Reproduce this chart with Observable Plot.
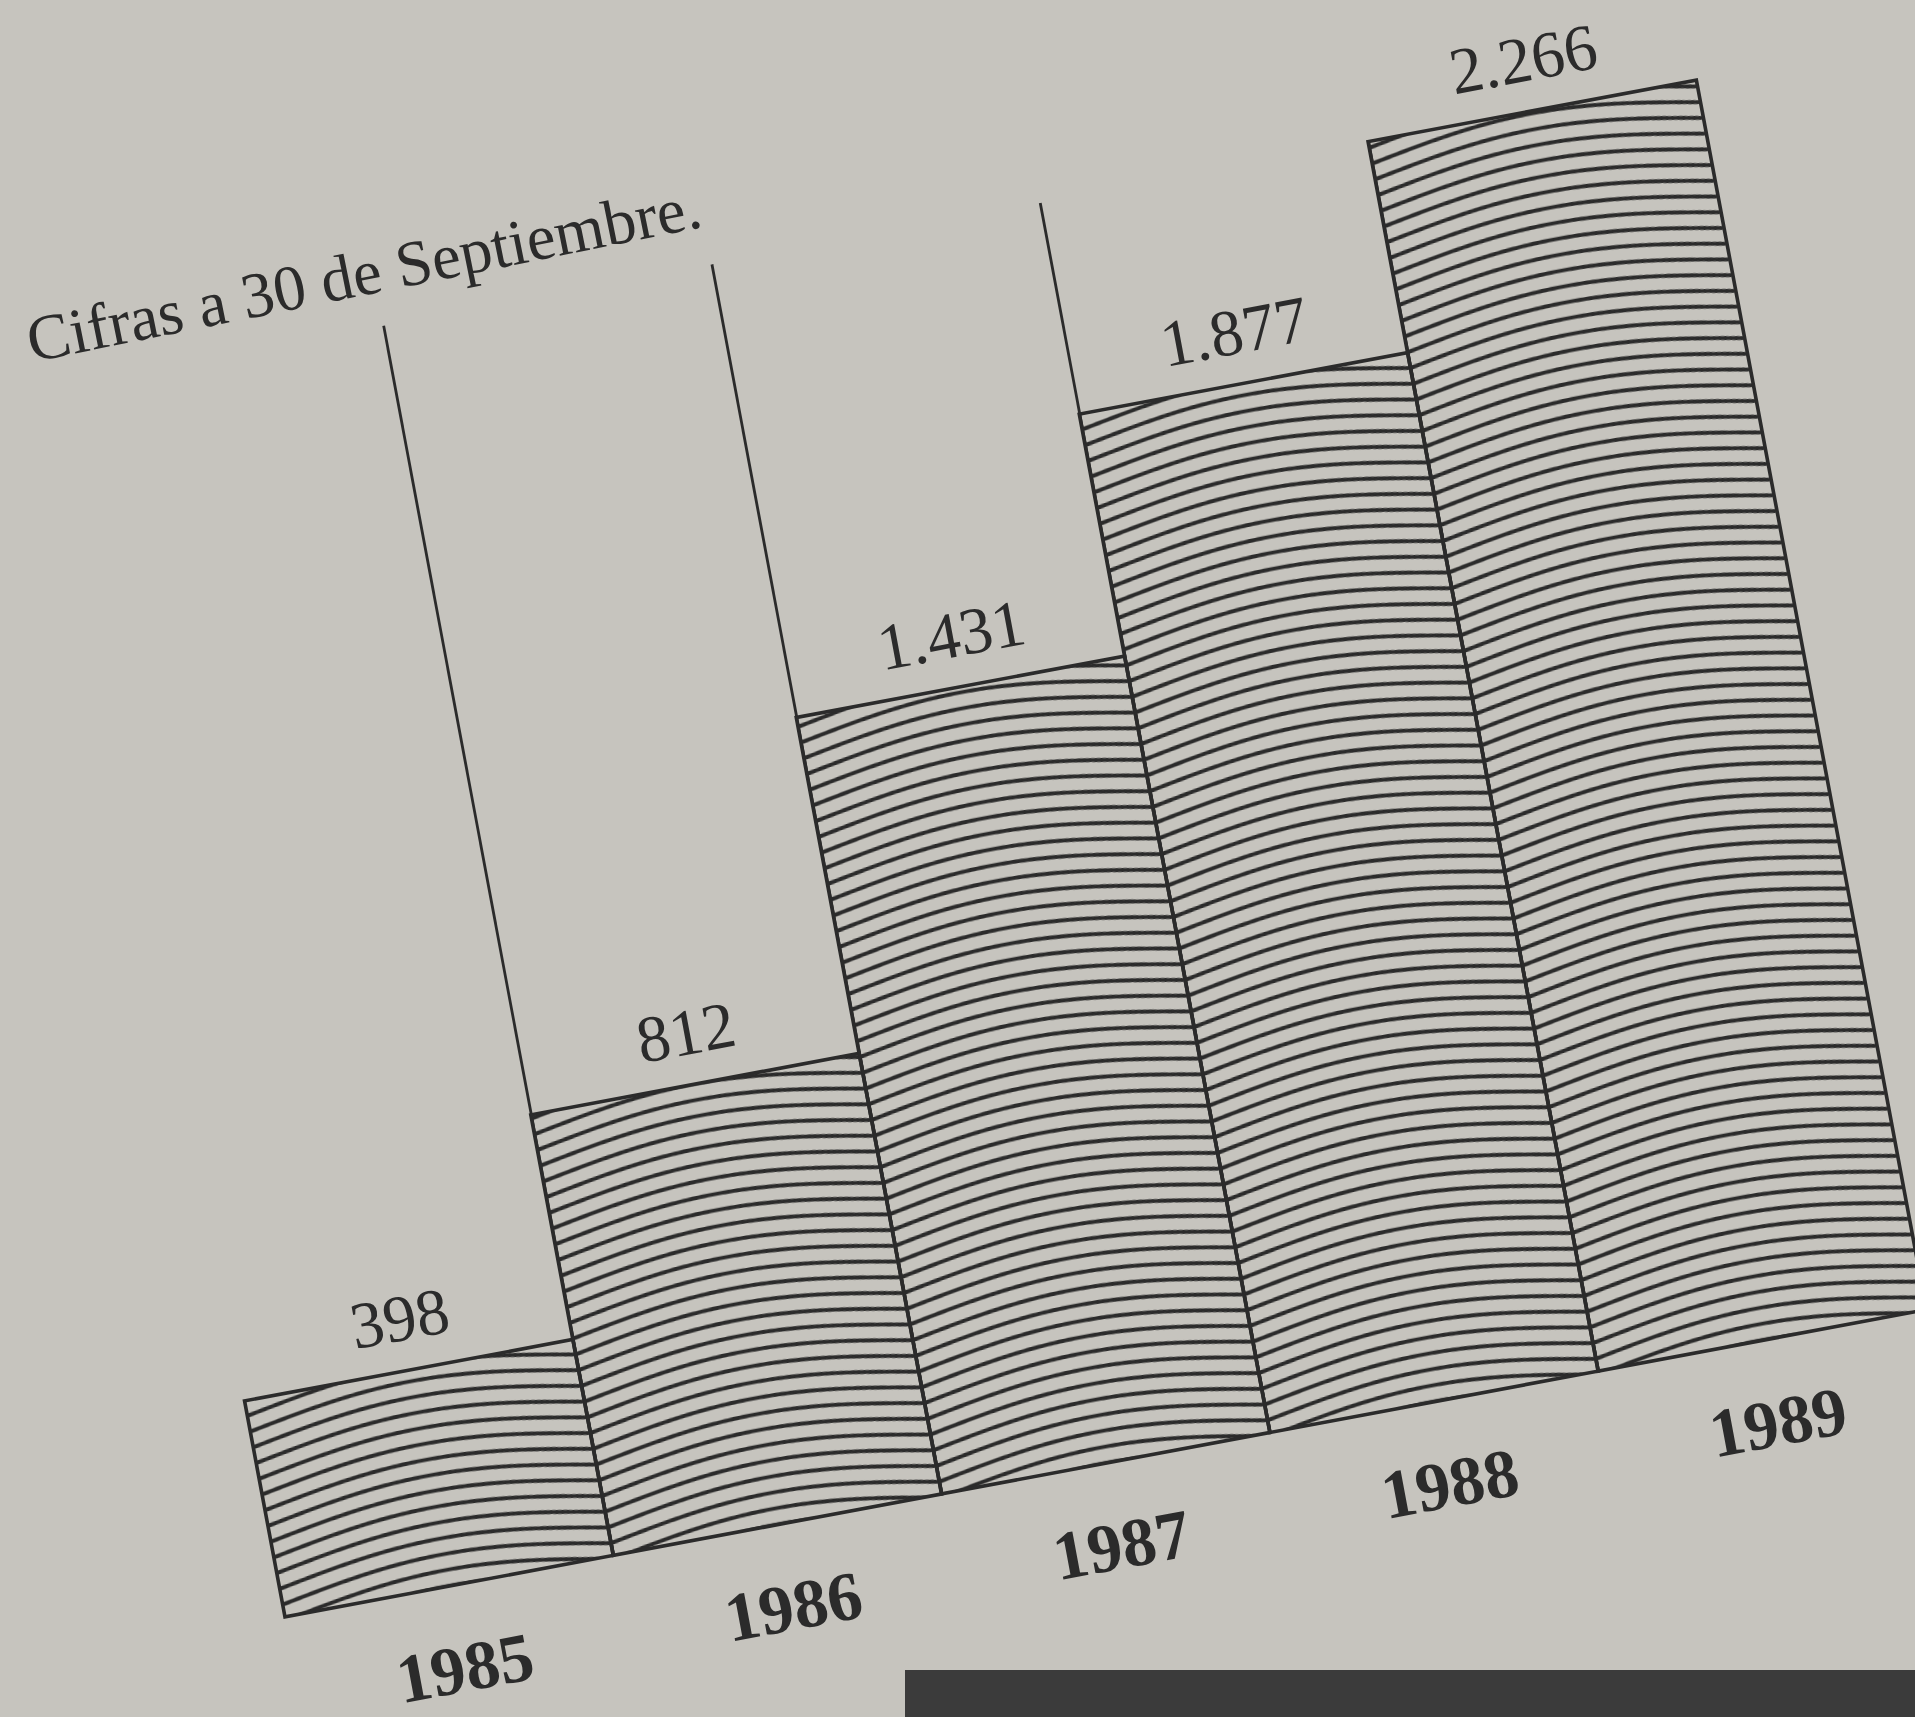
<!DOCTYPE html>
<html>
<head>
<meta charset="utf-8">
<script src="https://cdn.jsdelivr.net/npm/d3@7"></script>
<script src="https://cdn.jsdelivr.net/npm/@observablehq/plot@0.6"></script>
<style>
html, body { margin: 0; padding: 0; width: 1915px; height: 1717px; overflow: hidden; background: #c6c4be; }
#wrap { position: absolute; left: 225px; top: 266px; width: 1790px; transform-origin: 60px 1351px; transform: rotate(-10.6deg); }
#title { position: absolute; left: 42px; top: 18px; font-family: "Liberation Serif", serif; font-size: 64.5px; line-height: 64px; color: #2b2b2b; white-space: nowrap; transform-origin: 0 53px; transform: rotate(-0.8deg); }
#chart svg { display: block; overflow: visible; max-width: none !important; }
#photo { position: absolute; left: 905px; top: 1670px; width: 1010px; height: 47px; background: #3b3b3b; }
</style>
</head>
<body>
<div id="wrap">
  <div id="title"></div>
  <div id="chart"></div>
</div>
<div id="photo"></div>
<script>
// ---- data ----
const years = ["1985", "1986", "1987", "1988", "1989"];
const values = [398, 812, 1431, 1877, 2266];
const valueLabels = ["398", "812", "1.431", "1.877", "2.266"];
const titleText = "Cifras a 30 de Septiembre.";

// ---- layout / style ----
const ink = "#2b2b2b";
const ML = 60, MR = 60, MT = 100, MB = 150;
const BW = 334;       // bar width in px
const K = 0.552;      // px per unit
const yMax = d3.max(values);
const plotH = yMax * K;

document.getElementById("title").textContent = titleText;

const rows = years.map((year, i) => ({ year, value: values[i], label: valueLabels[i], i0: i, i1: i + 1, mid: i + 0.5 }));
const bounds = rows.slice(1).map(d => d.i0);

const chart = Plot.plot({
  width: ML + MR + BW * years.length,
  height: MT + MB + plotH,
  marginLeft: ML, marginRight: MR, marginTop: MT, marginBottom: MB,
  x: { type: "linear", domain: [0, years.length], axis: null },
  y: { domain: [0, yMax], axis: null },
  style: { background: "transparent", fontFamily: "Liberation Serif", color: ink, maxWidth: "none" },
  marks: [
    Plot.rect(rows, { x1: "i0", x2: "i1", y1: 0, y2: "value", fill: "url(#wave)", stroke: ink, strokeWidth: 3.6 }),
    Plot.ruleX(bounds, { x: d => d, y1: 0, y2: yMax, stroke: ink, strokeWidth: 2.8 }),
    Plot.text(rows, { x: "mid", y: "value", text: "label", dy: -52, fontSize: 66, lineAnchor: "middle", fill: ink }),
    Plot.text(rows, { x: "mid", y: 0, text: "year", dy: 84, fontSize: 69, fontWeight: "bold", lineAnchor: "middle", fill: ink })
  ]
});

// wavy hatch texture for the bars
const x0 = chart.scale("x").apply(0);
const y0 = chart.scale("y").apply(0);
const S = 16, A = 20;
const svg = d3.select(chart);
const defs = svg.insert("defs", ":first-child");
const pat = defs.append("pattern")
  .attr("id", "wave")
  .attr("patternUnits", "userSpaceOnUse")
  .attr("x", x0).attr("y", y0)
  .attr("width", BW).attr("height", S);
let d = "";
for (let o = -3 * S; o <= 3 * S; o += S) {
  for (let x = 0; x <= BW; x += 3) {
    const y = o + S * 0.6 + A * 0.5 - A * Math.sin(Math.PI * x / BW);
    d += (x === 0 ? "M" : "L") + x + "," + y.toFixed(2);
  }
}
pat.append("path").attr("d", d).attr("fill", "none").attr("stroke", ink).attr("stroke-width", 3.9);

document.getElementById("chart").appendChild(chart);
</script>
</body>
</html>
